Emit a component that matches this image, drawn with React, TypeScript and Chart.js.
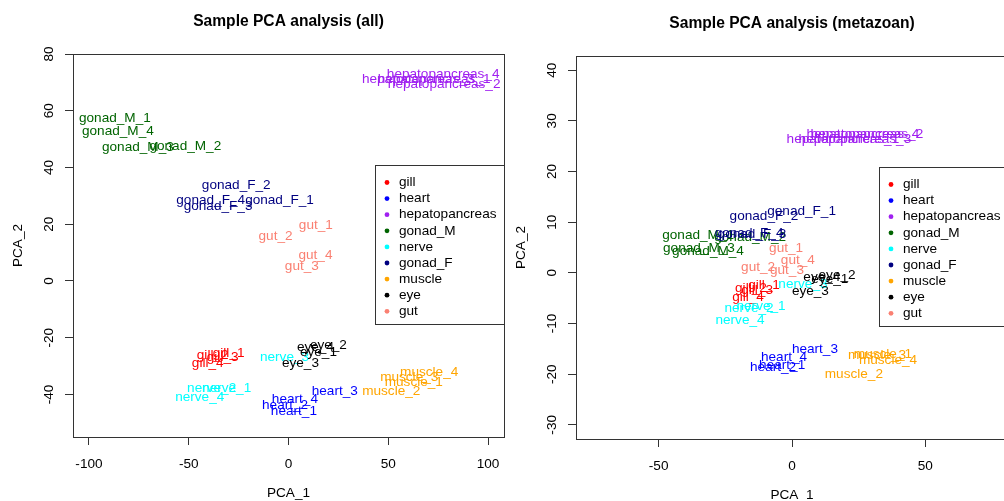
import React, { useEffect, useRef } from 'react';
import { Chart, registerables } from 'chart.js';

Chart.register(...registerables);

const FONT = '"Liberation Sans", Arial, Helvetica, sans-serif';
const FS = 13.6;
const TITLE_FS = 15.6;

const groups = ['gill', 'heart', 'hepatopancreas', 'gonad_M', 'nerve', 'gonad_F', 'muscle', 'eye', 'gut'];
const groupColors = ['#FF0000', '#0000FF', '#A020F0', '#006400', '#00FFFF', '#000080', '#FFA500', '#000000', '#FA8072'];

const sampleNames = [
  'gill_1', 'gill_2', 'gill_3', 'gill_4',
  'heart_1', 'heart_2', 'heart_3', 'heart_4',
  'hepatopancreas_1', 'hepatopancreas_2', 'hepatopancreas_3', 'hepatopancreas_4',
  'gonad_M_1', 'gonad_M_2', 'gonad_M_3', 'gonad_M_4',
  'nerve_1', 'nerve_2', 'nerve_3', 'nerve_4',
  'gonad_F_1', 'gonad_F_2', 'gonad_F_3', 'gonad_F_4',
  'muscle_1', 'muscle_2', 'muscle_3', 'muscle_4',
  'eye_1', 'eye_2', 'eye_3', 'eye_4',
  'gut_1', 'gut_2', 'gut_3', 'gut_4',
];

// Panel 1: all genes
const allPC1 = [
  -30, -38, -33, -40.5,
  2.7, -1.7, 23.2, 3.2,
  73, 78, 65, 77.5,
  -87, -51.7, -75.5, -85.5,
  -31, -38.5, -2, -44.5,
  -4.5, -26.2, -35.3, -39,
  62.8, 51.5, 60.5, 70.5,
  15, 20, 6, 13.5,
  13.7, -6.5, 6.7, 13.5,
];
const allPC2 = [
  -25.5, -26.2, -27, -29,
  -46, -43.9, -38.9, -41.8,
  71.2, 69.4, 71.2, 72.9,
  57.3, 47.4, 47, 52.7,
  -37.9, -37.9, -26.9, -41,
  28.3, 33.6, 26.2, 28.3,
  -35.7, -38.9, -34, -32.2,
  -25, -22.7, -29, -23.4,
  19.5, 15.6, 5.3, 9.2,
];

// Panel 2: metazoan genes
const metaPC1 = [
  -10.5, -15.4, -13.1, -16.5,
  -3.7, -7.1, 8.6, -3.0,
  19.1, 28.1, 23.6, 26.6,
  -35.2, -15.7, -34.9, -31.5,
  -11.6, -16.1, 4.1, -19.5,
  3.6, -10.5, -15, -16.1,
  34.1, 23.2, 31.9, 36.0,
  14.2, 16.9, 6.9, 11.2,
  -2.2, -12.7, -1.9, 2.2,
];
const metaPC2 = [
  -2.4, -3.0, -3.4, -4.8,
  -18.2, -18.6, -15.0, -16.6,
  26.4, 27.4, 26.4, 27.4,
  7.5, 7.1, 4.9, 4.3,
  -6.5, -6.9, -2.2, -9.4,
  12.2, 11.2, 7.7, 7.9,
  -16.0, -20.0, -16.2, -17.2,
  -1.2, -0.4, -3.6, -0.8,
  4.9, 1.1, 0.6, 2.5,
];

const allXTicks = [-100, -50, 0, 50, 100];
const allYTicks = [-40, -20, 0, 20, 40, 60, 80];
const metaXTicks = [-50, 0, 50];
const metaYTicks = [-30, -20, -10, 0, 10, 20, 30, 40];

const allRange = { xmin: -108, xmax: 108, ymin: -55, ymax: 80 };
const metaRange = { xmin: -81, xmax: 81, ymin: -32.8, ymax: 42.8 };

const sampleGroup = sampleNames.map((n) => groups.indexOf(n.slice(0, n.lastIndexOf('_'))));

function buildDatasets(xs: number[], ys: number[]) {
  return groups.map((g, gi) => {
    const idx = sampleNames.map((_, i) => i).filter((i) => sampleGroup[i] === gi);
    return {
      label: g,
      data: idx.map((i) => ({ x: xs[i], y: ys[i] })),
      names: idx.map((i) => sampleNames[i]),
      pointRadius: 0,
      pointHoverRadius: 0,
      borderColor: groupColors[gi],
      backgroundColor: groupColors[gi],
      showLine: false,
    } as any;
  });
}

const rPlot = {
  id: 'rplot',
  afterDraw(chart: any) {
    const ctx = chart.ctx as CanvasRenderingContext2D;
    const a = chart.chartArea;
    const title = chart.options.plugins.rplot.title;
    ctx.save();
    // plot box
    ctx.strokeStyle = '#333';
    ctx.lineWidth = 1;
    ctx.strokeRect(Math.round(a.left) + 0.5, Math.round(a.top) + 0.5, Math.round(a.right - a.left), Math.round(a.bottom - a.top));

    // title
    ctx.fillStyle = '#000';
    ctx.textAlign = 'center';
    ctx.textBaseline = 'middle';
    ctx.font = `bold ${TITLE_FS}px ${FONT}`;
    ctx.fillText(title, (a.left + a.right) / 2, 22);

    // rotated y tick labels
    ctx.font = `${FS}px ${FONT}`;
    const ys = chart.scales.y;
    ys.ticks.forEach((t: any) => {
      const py = ys.getPixelForValue(t.value);
      ctx.save();
      ctx.translate(a.left - 24, py);
      ctx.rotate(-Math.PI / 2);
      ctx.fillText(String(t.value), 0, 0);
      ctx.restore();
    });

    // sample text labels
    chart.data.datasets.forEach((ds: any, i: number) => {
      const meta = chart.getDatasetMeta(i);
      ctx.fillStyle = ds.borderColor;
      meta.data.forEach((el: any, j: number) => {
        ctx.fillText(ds.names[j], el.x, el.y);
      });
    });

    // legend (R style, "right")
    const w = 129;
    const h = 159;
    const lx = Math.round(a.right - w);
    const ly = Math.round((a.top + a.bottom) / 2 - h / 2 - 1);
    ctx.strokeStyle = '#333';
    ctx.strokeRect(lx + 0.5, ly + 0.5, w, h);
    ctx.textAlign = 'left';
    groups.forEach((g, i) => {
      const ry = ly + 17.5 + i * 16.1;
      ctx.fillStyle = groupColors[i];
      ctx.beginPath();
      ctx.arc(lx + 12, ry, 2.4, 0, Math.PI * 2);
      ctx.fill();
      ctx.fillStyle = '#000';
      ctx.fillText(g, lx + 24, ry);
    });
    ctx.restore();
  },
};

function makeConfig(xs: number[], ys: number[], xt: number[], yt: number[], r: any, title: string) {
  const font = { family: FONT, size: FS };
  return {
    type: 'scatter',
    data: { datasets: buildDatasets(xs, ys) },
    plugins: [rPlot],
    options: {
      responsive: false,
      animation: false,
      events: [],
      layout: { padding: { top: 54, right: 8, bottom: 0, left: 0 } },
      plugins: {
        legend: { display: false },
        tooltip: { enabled: false },
        rplot: { title },
      },
      scales: {
        x: {
          type: 'linear',
          min: r.xmin,
          max: r.xmax,
          afterBuildTicks: (s: any) => { s.ticks = xt.map((v) => ({ value: v })); },
          afterFit: (s: any) => { s.height = 64; },
          grid: { drawOnChartArea: false, drawTicks: true, tickLength: 8, color: '#333', lineWidth: 1 },
          border: { display: false },
          ticks: { font, color: '#000', padding: 11, maxRotation: 0, autoSkip: false, callback: (v: any) => String(v) },
          title: { display: true, text: 'PCA_1', font, color: '#000', padding: { top: 0, bottom: 0 } },
        },
        y: {
          type: 'linear',
          min: r.ymin,
          max: r.ymax,
          afterBuildTicks: (s: any) => { s.ticks = yt.map((v) => ({ value: v })); },
          afterFit: (s: any) => { s.width = 73; },
          grid: { drawOnChartArea: false, drawTicks: true, tickLength: 8, color: '#333', lineWidth: 1 },
          border: { display: false },
          ticks: { display: false },
          title: { display: true, text: 'PCA_2', font, color: '#000', padding: { top: 10, bottom: 0 } },
        },
      },
    },
  } as any;
}

export default function App() {
  const leftRef = useRef<HTMLCanvasElement>(null);
  const rightRef = useRef<HTMLCanvasElement>(null);

  useEffect(() => {
    const c1 = new Chart(leftRef.current as HTMLCanvasElement,
      makeConfig(allPC1, allPC2, allXTicks, allYTicks, allRange, 'Sample PCA analysis (all)'));
    const c2 = new Chart(rightRef.current as HTMLCanvasElement,
      makeConfig(metaPC1, metaPC2, metaXTicks, metaYTicks, metaRange, 'Sample PCA analysis (metazoan)'));
    return () => { c1.destroy(); c2.destroy(); };
  }, []);

  return (
    <div style={{ position: 'fixed', left: 0, top: 0, width: 1004, height: 501, overflow: 'hidden', background: '#fff' }}>
      <div style={{ position: 'absolute', left: 0, top: 0, width: 512, height: 501 }}>
        <canvas ref={leftRef} width={512} height={501} style={{ width: 512, height: 501, display: 'block' }} />
      </div>
      <div style={{ position: 'absolute', left: 503, top: 2, width: 513, height: 501 }}>
        <canvas ref={rightRef} width={513} height={501} style={{ width: 513, height: 501, display: 'block' }} />
      </div>
    </div>
  );
}
